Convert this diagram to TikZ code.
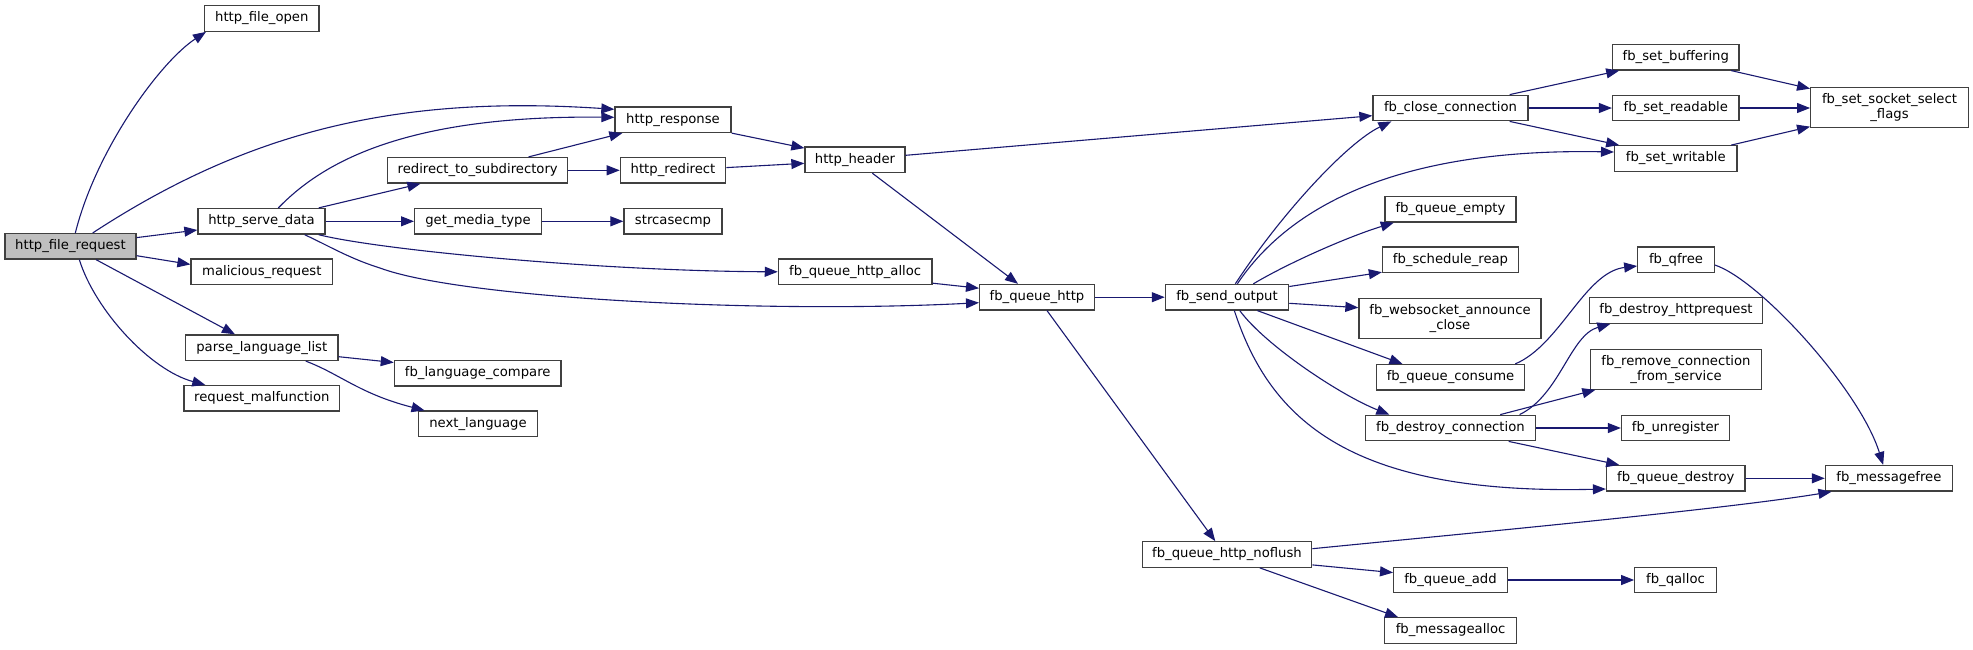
\documentclass[tikz,border=0pt]{standalone}
\usepackage{fontspec}
\newfontfamily\dvs{DejaVu Sans}
\usetikzlibrary{calc,arrows.meta}
\definecolor{edgecol}{HTML}{191970}
\definecolor{boxline}{HTML}{404040}
\definecolor{rootfill}{HTML}{BFBFBF}
\tikzset{
  box/.style={draw=boxline, line width=1.3pt, fill=white, minimum height=25.5pt,
    inner sep=0pt, align=center, font={\dvs\fontsize{13.2}{15.3}\selectfont}},
  tall/.style={minimum height=40pt},
  edge/.style={draw=edgecol, line width=1.1pt, -{Triangle[length=13pt,width=10pt]}}
}
\begin{document}
\begin{tikzpicture}[x=1pt,y=-1pt]
\useasboundingbox (0,0) rectangle (1973,649);
\fill[white] (0,0) rectangle (1973,649);
% nodes
\node[box,minimum width=131pt,fill=rootfill] (hfr) at (70.5,246.3) {http\_file\_request};
\node[box,minimum width=114.4pt] (hfo) at (261.8,18.5) {http\_file\_open};
\node[box,minimum width=116pt] (hresp) at (673,119.7) {http\_response};
\node[box,minimum width=180pt] (redir) at (477.7,170.3) {redirect\_to\_subdirectory};
\node[box,minimum width=105.3pt] (hredir) at (673,170.3) {http\_redirect};
\node[box,minimum width=127pt] (hsd) at (261.5,221.3) {http\_serve\_data};
\node[box,minimum width=126.7pt] (gmt) at (478,221.3) {get\_media\_type};
\node[box,minimum width=98pt] (strc) at (673,221.3) {strcasecmp};
\node[box,minimum width=141.5pt] (mal) at (261.8,271.8) {malicious\_request};
\node[box,minimum width=152.4pt] (pll) at (261.8,347.7) {parse\_language\_list};
\node[box,minimum width=166.6pt] (flc) at (477.7,373.3) {fb\_language\_compare};
\node[box,minimum width=155.7pt] (rmal) at (261.8,398.3) {request\_malfunction};
\node[box,minimum width=119pt] (nl) at (478,423.8) {next\_language};
\node[box,minimum width=100pt] (hhdr) at (855,159.8) {http\_header};
\node[box,minimum width=153.6pt] (fqha) at (855.2,271.8) {fb\_queue\_http\_alloc};
\node[box,minimum width=114.7pt] (fqh) at (1037,297.2) {fb\_queue\_http};
\node[box,minimum width=123.2pt] (fso) at (1227,297.2) {fb\_send\_output};
\node[box,minimum width=169.6pt] (fqhn) at (1227,554.5) {fb\_queue\_http\_noflush};
\node[box,minimum width=155pt] (fcc) at (1450.5,108) {fb\_close\_connection};
\node[box,minimum width=126.5pt] (fsb) at (1675.8,57.2) {fb\_set\_buffering};
\node[box,minimum width=126.5pt] (fsr) at (1675.8,108) {fb\_set\_readable};
\node[box,tall,minimum width=157.6pt] (fssf) at (1889.5,107.7) {fb\_set\_socket\_select\\\_flags};
\node[box,minimum width=122.4pt] (fsw) at (1675.8,158.5) {fb\_set\_writable};
\node[box,minimum width=131pt] (fqe) at (1450.5,209.3) {fb\_queue\_empty};
\node[box,minimum width=136pt] (fsrp) at (1450.5,259.8) {fb\_schedule\_reap};
\node[box,minimum width=76.4pt] (fqf) at (1676,259.8) {fb\_qfree};
\node[box,tall,minimum width=182pt] (fwac) at (1450,318.7) {fb\_websocket\_announce\\\_close};
\node[box,minimum width=173.4pt] (fdh) at (1676,310.5) {fb\_destroy\_httprequest};
\node[box,minimum width=148pt] (fqc) at (1450.5,377.3) {fb\_queue\_consume};
\node[box,tall,minimum width=170.8pt] (frcs) at (1676,369.2) {fb\_remove\_connection\\\_from\_service};
\node[box,minimum width=170.4pt] (fdc) at (1450.4,428) {fb\_destroy\_connection};
\node[box,minimum width=108pt] (funr) at (1675.5,428) {fb\_unregister};
\node[box,minimum width=138.5pt] (fqd) at (1675.8,478.3) {fb\_queue\_destroy};
\node[box,minimum width=127pt] (fmf) at (1888.9,478.3) {fb\_messagefree};
\node[box,minimum width=113.7pt] (fqa) at (1450.5,580) {fb\_queue\_add};
\node[box,minimum width=81.5pt] (fqal) at (1675.5,580) {fb\_qalloc};
\node[box,minimum width=132pt] (fma) at (1450.6,630.5) {fb\_messagealloc};
% edges
\draw[edge] ($(hfr.north west)+(71,0)$) .. controls (96,150) and (160,62) .. ($(hfo.south west)+(2,0)$);
\draw[edge] ($(hfr.north west)+(88.4,0)$) .. controls (250,130) and (400,95) .. ($(hresp.north west)+(0,3)$);
\draw[edge] ($(hfr.north east)+(0,4.7)$) -- ($(hsd.south west)+(0,-4.7)$);
\draw[edge] ($(hfr.south east)+(0,-4)$) -- ($(mal.north west)+(0,6)$);
\draw[edge] ($(hfr.south west)+(91.8,0)$) -- ($(pll.north west)+(50,0)$);
\draw[edge] ($(hfr.south west)+(75,0)$) .. controls (95,310) and (150,370) .. ($(rmal.north west)+(22,0)$);
\draw[edge] ($(pll.east)+(0,9)$) -- ($(flc.north west)+(0,2.6)$);
\draw[edge] ($(pll.south west)+(120.8,0)$) .. controls (340,374) and (360,394) .. ($(nl.north west)+(6.7,0)$);
\draw[edge] ($(hsd.north west)+(81,0)$) .. controls (320,165) and (400,115) .. ($(hresp.west)+(0,-2.4)$);
\draw[edge] ($(hsd.north east)+(-7,0)$) -- ($(redir.south west)+(33.4,0)$);
\draw[edge] (hsd.east) -- (gmt.west);
\draw[edge] ($(hsd.south east)+(-7,0)$) .. controls (380,250) and (600,271) .. (fqha.west);
\draw[edge] ($(hsd.south east)+(-21,0)$) .. controls (329,246) and (350,258.7) .. (380,268) .. controls (460,298) and (760,314) .. ($(fqh.west)+(0,5.5)$);
\draw[edge] ($(redir.north east)+(-39.8,0)$) -- ($(hresp.south west)+(8,0)$);
\draw[edge] (redir.east) -- (hredir.west);
\draw[edge] (gmt.east) -- (strc.west);
\draw[edge] (hresp.south east) -- ($(hhdr.north west)+(0,1.7)$);
\draw[edge] ($(hredir.east)+(0,-2.7)$) -- ($(hhdr.west)+(0,3.5)$);
\draw[edge] ($(hhdr.east)+(0,-4.5)$) -- ($(fcc.west)+(0,7.7)$);
\draw[edge] ($(hhdr.south west)+(68,0)$) -- ($(fqh.north west)+(39,0)$);
\draw[edge] ($(fqha.south east)+(0,-2)$) -- ($(fqh.north west)+(0,4.4)$);
\draw[edge] (fqh.east) -- (fso.west);
\draw[edge] ($(fqh.south west)+(68,0)$) -- ($(fqhn.north west)+(73.7,0)$);
\draw[edge] ($(fso.north west)+(70.6,0)$) .. controls (1281,214) and (1347,142.7) .. ($(fcc.south west)+(19,0)$);
\draw[edge] ($(fso.north west)+(72.6,0)$) .. controls (1290,205) and (1400,148) .. ($(fsw.west)+(0,-6.5)$);
\draw[edge] ($(fso.north west)+(88.6,0)$) .. controls (1290,262) and (1350,236) .. ($(fqe.south west)+(9.4,0)$);
\draw[edge] ($(fso.north east)+(0,2.7)$) -- ($(fsrp.south west)+(0,-1)$);
\draw[edge] ($(fso.east)+(0,6.1)$) -- ($(fwac.north west)+(0,9.6)$);
\draw[edge] ($(fso.south west)+(92.6,0)$) -- ($(fqc.north west)+(26.6,0)$);
\draw[edge] ($(fso.south west)+(75,0)$) .. controls (1265,345) and (1340,395) .. ($(fdc.north west)+(24.8,0)$);
\draw[edge] ($(fso.south west)+(69.6,0)$) .. controls (1270,420) and (1350,495) .. ($(fqd.south west)+(0,-2.7)$);
\draw[edge] ($(fcc.north east)+(-19,0)$) -- ($(fsb.south west)+(7.3,0)$);
\draw[edge] (fcc.east) -- (fsr.west);
\draw[edge] ($(fcc.south east)+(-19,0)$) -- ($(fsw.north west)+(5.2,0)$);
\draw[edge] ($(fsb.south east)+(-8.5,0)$) -- ($(fssf.north west)+(0,1.6)$);
\draw[edge] (fsr.east) -- (fsr.east -| fssf.west);
\draw[edge] ($(fsw.north east)+(-6.5,0)$) -- ($(fssf.south west)+(0,-1.7)$);
\draw[edge] ($(fqc.north east)+(-9.9,0)$) .. controls (1560,345) and (1585,272) .. ($(fqf.west)+(0,6.2)$);
\draw[edge] ($(fqf.east)+(0,5.2)$) .. controls (1760,280) and (1860,390) .. ($(fmf.north west)+(58.4,0)$);
\draw[edge] ($(fdc.north east)+(-16.7,0)$) .. controls (1560,395) and (1570,335) .. ($(fdh.south west)+(21.7,0)$);
\draw[edge] ($(fdc.north east)+(-36,0)$) -- ($(frcs.south west)+(5.4,0)$);
\draw[edge] (fdc.east) -- (funr.west);
\draw[edge] ($(fdc.south east)+(-27.6,0)$) -- ($(fqd.north west)+(13.3,0)$);
\draw[edge] (fqd.east) -- (fmf.west);
\draw[edge] ($(fqhn.east)+(0,-5.8)$) .. controls (1450,535) and (1720,510) .. ($(fmf.south west)+(6.7,0)$);
\draw[edge] ($(fqhn.south east)+(0,-3)$) -- ($(fqa.north west)+(0,6)$);
\draw[edge] ($(fqhn.south west)+(118.3,0)$) -- ($(fma.north west)+(14.1,0)$);
\draw[edge] (fqa.east) -- (fqal.west);
\end{tikzpicture}
\end{document}
